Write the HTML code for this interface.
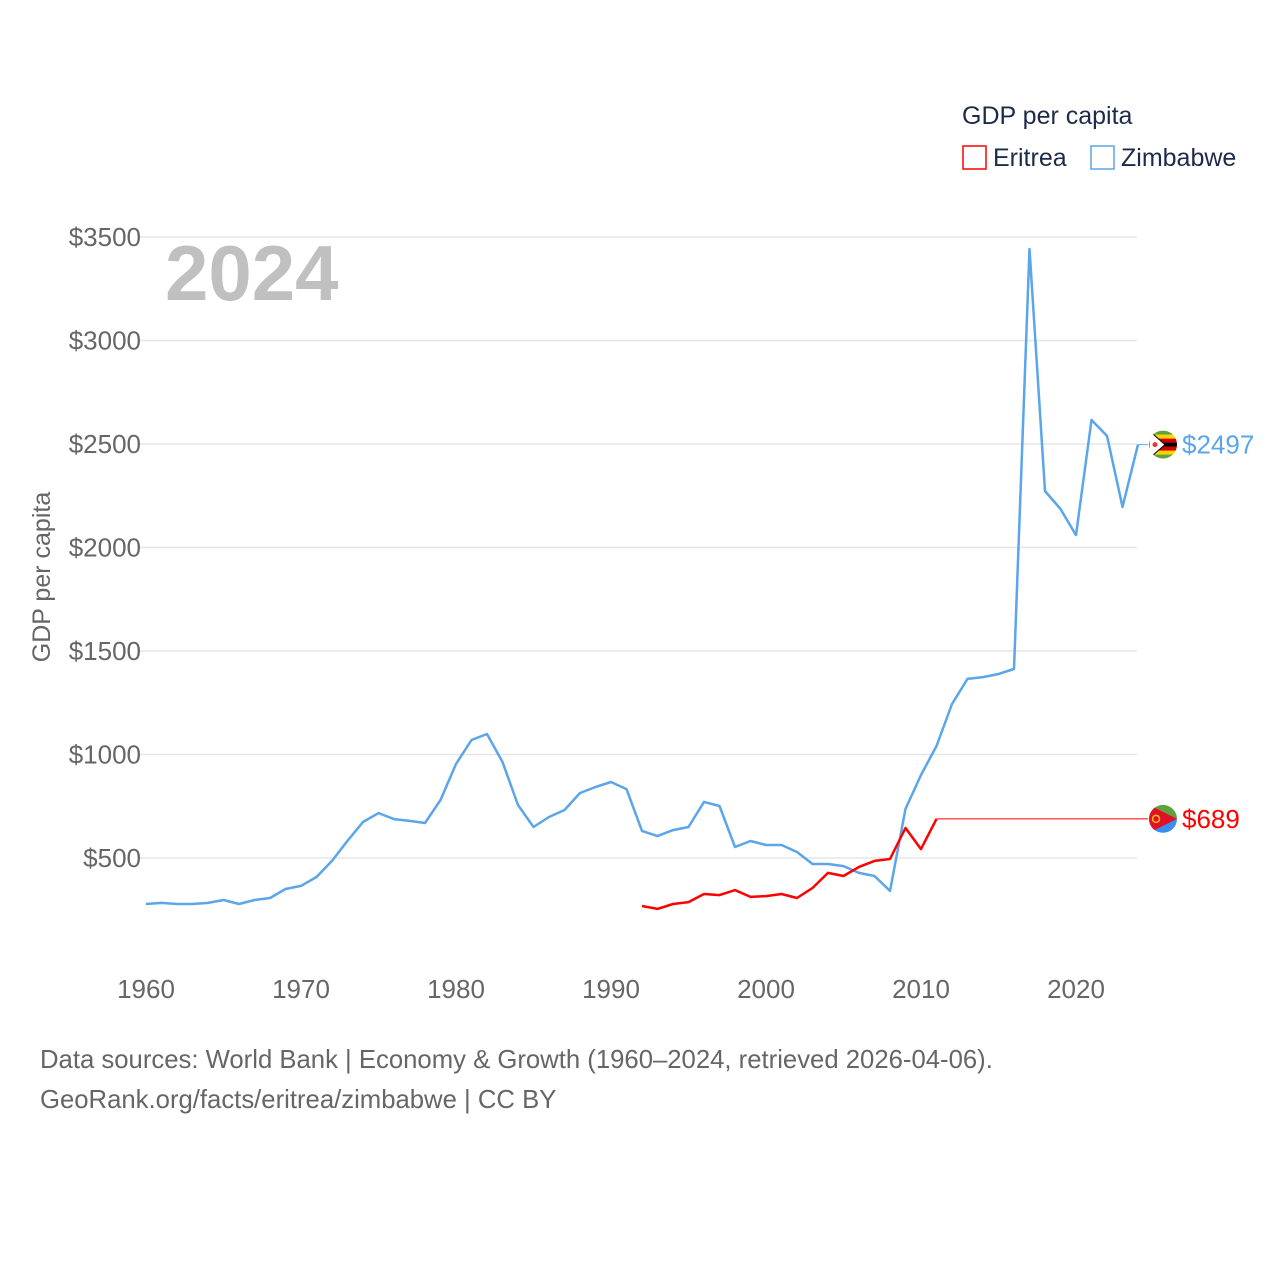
<!DOCTYPE html>
<html><head><meta charset="utf-8">
<style>
body{margin:0;background:#fff;font-family:"Liberation Sans",sans-serif;}
svg{display:block}
</style></head><body>
<svg width="1280" height="1280" viewBox="0 0 1280 1280" id="chart">
<rect width="1280" height="1280" fill="#fff"/>
<g id="grid"></g>
<text x="165" y="300" font-size="78" font-weight="bold" fill="#c0c0c0">2024</text>
<g id="marks"></g>
<text transform="translate(50,577) rotate(-90)" text-anchor="middle" font-size="25" fill="#666">GDP per capita</text>
<text x="962" y="124" font-size="25" fill="#1c2b4a">GDP per capita</text>
<g>
<rect x="963" y="146" width="23" height="23" fill="none" stroke="#ff0000" stroke-width="1.5"/>
<text x="993" y="166" font-size="25" fill="#1c2b4a">Eritrea</text></g>
<g>
<rect x="1091" y="146" width="23" height="23" fill="none" stroke="#5ba5ea" stroke-width="1.5"/>
<text x="1121" y="166" font-size="25" fill="#1c2b4a">Zimbabwe</text></g>
<text x="40" y="1068" font-size="25.7" fill="#666">Data sources: World Bank | Economy &amp; Growth (1960–2024, retrieved 2026-04-06).</text>
<text x="40" y="1108" font-size="25.7" fill="#666">GeoRank.org/facts/eritrea/zimbabwe | CC BY</text>
</svg>
<script>
const yTicks=[500,1000,1500,2000,2500,3000,3500];
const xTicks=[1960,1970,1980,1990,2000,2010,2020];
const zwYears=[1960,1961,1962,1963,1964,1965,1966,1967,1968,1969,1970,1971,1972,1973,1974,1975,1976,1977,1978,1979,1980,1981,1982,1983,1984,1985,1986,1987,1988,1989,1990,1991,1992,1993,1994,1995,1996,1997,1998,1999,2000,2001,2002,2003,2004,2005,2006,2007,2008,2009,2010,2011,2012,2013,2014,2015,2016,2017,2018,2019,2020,2021,2022,2023,2024];
const zwValues=[278,283,278,278,283,297,278,297,307,350,365,408,486,583,674,717,688,679,669,780,954,1070,1099,964,756,650,698,732,814,843,867,833,631,606,635,650,771,751,553,582,563,563,529,471,471,461,428,413,341,737,901,1041,1244,1365,1374,1389,1413,3442,2273,2186,2060,2616,2539,2196,2497];
const erYears=[1992,1993,1994,1995,1996,1997,1998,1999,2000,2001,2002,2003,2004,2005,2006,2007,2008,2009,2010,2011];
const erValues=[268,254,278,287,326,321,345,312,316,326,307,355,428,413,457,486,495,645,543,689];
const labels=["$2497","$689"];
const NS="http://www.w3.org/2000/svg";
function X(yr){return 146+(yr-1960)*15.5;}
function Y(v){return 961.5-v*0.207;}
function el(t,a,p){const e=document.createElementNS(NS,t);for(const k in a)e.setAttribute(k,a[k]);p.appendChild(e);return e;}
const grid=document.getElementById('grid'),marks=document.getElementById('marks');
yTicks.forEach(v=>{
 const l=el('line',{x1:140,x2:1137,y1:Y(v),y2:Y(v),stroke:'#e6e6e6','stroke-width':1.5},grid);
 
 
 const t=el('text',{x:141,y:Y(v)+9,'text-anchor':'end','font-size':26,fill:'#666'},grid);
 t.textContent='$'+v;
 
 
});
xTicks.forEach(yr=>{
 const t=el('text',{x:X(yr),y:998,'text-anchor':'middle','font-size':26,fill:'#666'},grid);
 t.textContent=yr;
 
 
});
function line(ys,vs,color,name){
 const d=ys.map((y,i)=>(i?'L':'M')+X(y).toFixed(1)+','+Y(vs[i]).toFixed(1)).join('');
 const p=el('path',{d:d,fill:'none',stroke:color,'stroke-width':2.5,'stroke-linejoin':'round'},marks);
 
 
}
line(zwYears,zwValues,'#5ba5ea','zimbabwe-line');
line(erYears,erValues,'#ff0000','eritrea-line');
const zl=zwValues[zwValues.length-1], el2=erValues[erValues.length-1];
const c1=el('line',{x1:X(2024),x2:1148,y1:Y(zl),y2:Y(zl),stroke:'#5ba5ea','stroke-width':1},marks);


const c2=el('line',{x1:X(erYears[erYears.length-1]),x2:1148,y1:Y(el2),y2:Y(el2),stroke:'#ff0000','stroke-width':1},marks);


function flagZ(cy){
 const g=el('g',{},marks);
 
 
 const cx=1163,r=14;
 const cp=el('clipPath',{id:'cz'},g);el('circle',{cx:cx,cy:cy,r:r},cp);
 const gg=el('g',{'clip-path':'url(#cz)'},g);
 const cols=['#5fa33e','#ffd200','#d40000','#000','#d40000','#ffd200','#5fa33e'];
 cols.forEach((c,i)=>el('rect',{x:cx-r,y:cy-r+i*4,width:28,height:4.2,fill:c},gg));
 el('polygon',{points:`${cx-r},${cy-r} ${cx+2},${cy} ${cx-r},${cy+r}`,fill:'#fff',stroke:'#000','stroke-width':1},gg);
 el('circle',{cx:cx-8,cy:cy,r:2.5,fill:'#e33'},gg);
}
function flagE(cy){
 const g=el('g',{},marks);
 
 
 const cx=1163,r=14;
 const cp=el('clipPath',{id:'ce'},g);el('circle',{cx:cx,cy:cy,r:r},cp);
 const gg=el('g',{'clip-path':'url(#ce)'},g);
 el('rect',{x:cx-r,y:cy-r,width:28,height:14,fill:'#5fa33e'},gg);
 el('rect',{x:cx-r,y:cy,width:28,height:14,fill:'#3a8ef0'},gg);
 el('polygon',{points:`${cx-r},${cy-r} ${cx+r},${cy} ${cx-r},${cy+r}`,fill:'#e0102a'},gg);
 el('circle',{cx:cx-7,cy:cy,r:3.5,fill:'none',stroke:'#ffc400','stroke-width':1.5},gg);
}
flagZ(Y(zl));flagE(Y(el2));
const t1=el('text',{x:1182,y:Y(zl)+9,'font-size':26,fill:'#5ba5ea'},marks);
t1.textContent=labels[0];


const t2=el('text',{x:1182,y:Y(el2)+9,'font-size':26,fill:'#ff0000'},marks);
t2.textContent=labels[1];


</script>
</body></html>
